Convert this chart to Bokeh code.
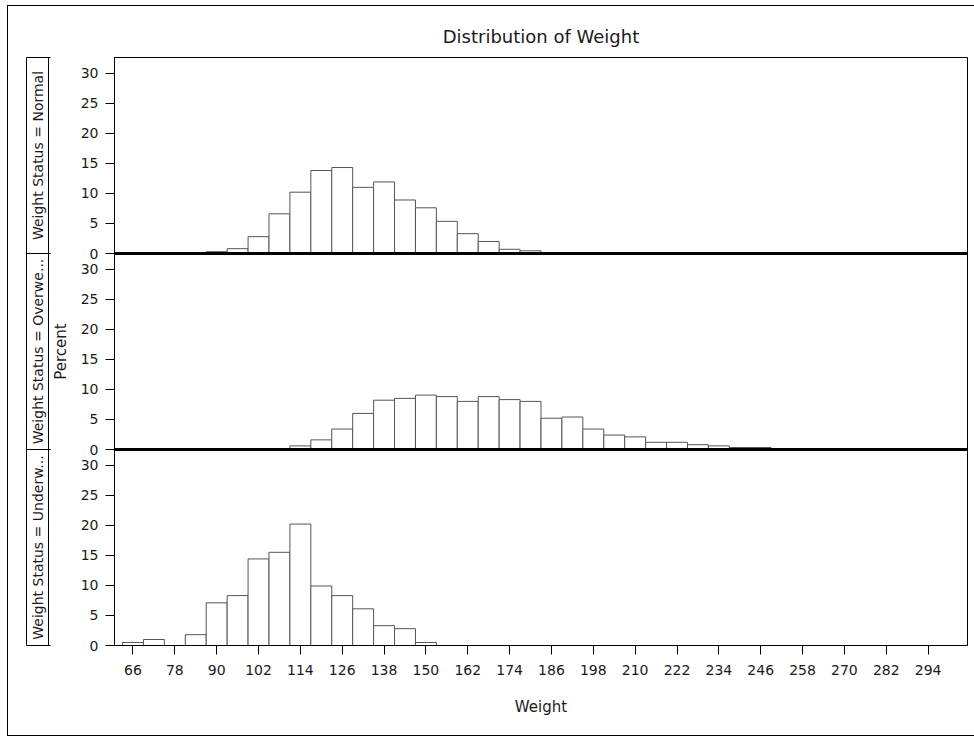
from bokeh.plotting import figure
from bokeh.models import (Range1d, FixedTicker, ColumnDataSource, Span, LinearAxis,
                          InlineStyleSheet)
from bokeh.embed import file_html
from bokeh.resources import INLINE

# ---------------- data ----------------
bin_width = 6
normal_bins = [90, 96, 102, 108, 114, 120, 126, 132, 138, 144, 150, 156, 162, 168, 174, 180]
normal_pct = [0.3, 0.8, 2.8, 6.6, 10.2, 13.8, 14.3, 11.0, 11.9, 8.9, 7.6, 5.35, 3.3, 2.0, 0.7, 0.45]

over_bins = [114, 120, 126, 132, 138, 144, 150, 156, 162, 168, 174, 180, 186, 192, 198,
             204, 210, 216, 222, 228, 234, 240, 246]
over_pct = [0.6, 1.6, 3.4, 6.0, 8.2, 8.5, 9.05, 8.8, 8.0, 8.8, 8.3, 8.0, 5.2, 5.4, 3.4,
            2.4, 2.1, 1.2, 1.2, 0.8, 0.6, 0.33, 0.33]

under_bins = [66, 72, 78, 84, 90, 96, 102, 108, 114, 120, 126, 132, 138, 144, 150]
under_pct = [0.5, 1.0, 0.0, 1.8, 7.1, 8.3, 14.4, 15.5, 20.2, 9.9, 8.3, 6.1, 3.3, 2.8, 0.5]

panel_labels = ["Weight Status = Normal", "Weight Status = Overwe...", "Weight Status = Underw..."]
weight_ticks = [66, 78, 90, 102, 114, 126, 138, 150, 162, 174, 186, 198, 210, 222, 234, 246, 258, 270, 282, 294]
percent_ticks = [0, 5, 10, 15, 20, 25, 30]
title_text = "Distribution of Weight"
x_label = "Weight"
y_label = "Percent"

# ---------------- layout ----------------
W, H = 974, 736
FONT = "DejaVu Sans"
FL, FR = 114, 967          # frame left / right (canvas px)
FT, FB = 57, 645           # frame top / bottom (canvas px)
PANEL_MAX = 32.6           # percent span of one panel
X0, X1 = 60.7, 305.3
TXT = "#1a1a1a"

n_panels = 3
p = figure(width=W, height=H, x_range=Range1d(X0, X1), y_range=Range1d(0, n_panels * PANEL_MAX),
           output_backend="svg", toolbar_location=None, title=title_text,
           min_border=0, min_border_left=FL, min_border_right=W - FR,
           min_border_top=FT, min_border_bottom=H - FB)
p.grid.visible = False
p.background_fill_color = "white"
p.border_fill_color = "white"
p.outline_line_color = "black"
p.outline_line_width = 1

# outer frame of the graph (page-level decoration)
p.stylesheets = [InlineStyleSheet(css=(
    ":host::after { content: ''; position: absolute; left: 7px; top: 5px; width: 1000px; height: 731px;"
    " border-left: 1px solid #000; border-top: 1px solid #000; border-bottom: 1px solid #000;"
    " box-sizing: border-box; pointer-events: none; }"))]

p.title.align = "center"
p.title.text_font = FONT
p.title.text_font_size = "18px"
p.title.text_font_style = "normal"
p.title.text_color = TXT
p.title.standoff = 21

panels = [(normal_bins, normal_pct), (over_bins, over_pct), (under_bins, under_pct)]
tick_vals, overrides = [], {}
for k, (bins, pct) in enumerate(panels):
    off = (n_panels - 1 - k) * PANEL_MAX
    b = [x for x, v in zip(bins, pct) if v > 0]
    v = [v for v in pct if v > 0]
    src = ColumnDataSource(dict(left=[x - bin_width / 2 for x in b],
                                right=[x + bin_width / 2 for x in b],
                                top=[off + t for t in v], bottom=[off] * len(v)))
    p.quad(left="left", right="right", top="top", bottom="bottom", source=src,
           fill_color="white", line_color="#555555", line_width=1)
    for t in percent_ticks:
        tv = round(off + t, 6)
        tick_vals.append(tv)
        overrides[tv] = str(t)
    if k > 0:
        p.add_layout(Span(location=off + PANEL_MAX, dimension="width", line_color="black", line_width=3))

ax = p.yaxis[0]
ax.ticker = FixedTicker(ticks=tick_vals)
ax.major_label_overrides = overrides
ax.major_tick_out = 9
ax.major_tick_in = 0
ax.minor_tick_out = 0
ax.minor_tick_in = 0
ax.major_label_standoff = 7
ax.axis_line_color = "black"
ax.major_tick_line_color = "black"
ax.major_label_text_font = FONT
ax.major_label_text_font_size = "14px"
ax.major_label_text_color = TXT
ax.axis_label = y_label
ax.axis_label_text_font = FONT
ax.axis_label_text_font_size = "15px"
ax.axis_label_text_font_style = "normal"
ax.axis_label_text_color = TXT
ax.axis_label_standoff = 8

# row headers: an extra axis whose tick labels are the panel names (its line is the
# boxes' right edge); a second bare axis gives the left edge, its inward minor ticks
# the boxes' horizontal edges
p.extra_y_ranges = {"hdr": Range1d(0, n_panels)}
hdr_centers = [n_panels - 1 - k + 0.5 for k in range(n_panels)]
hdr_edges = list(range(n_panels + 1))
hdr = LinearAxis(y_range_name="hdr",
                 ticker=FixedTicker(ticks=hdr_centers),
                 major_label_overrides={c: panel_labels[k] for k, c in enumerate(hdr_centers)},
                 major_label_orientation="vertical",
                 major_tick_out=0, major_tick_in=0, major_tick_line_color=None,
                 minor_tick_out=0, minor_tick_in=0,
                 axis_line_color="black", major_label_standoff=3,
                 major_label_text_font=FONT, major_label_text_font_size="14px",
                 major_label_text_color=TXT)
p.add_layout(hdr, "left")
hdr_left = LinearAxis(y_range_name="hdr", ticker=FixedTicker(ticks=[], minor_ticks=hdr_edges),
                      major_tick_out=0, major_tick_in=0, minor_tick_out=0, minor_tick_in=24,
                      minor_tick_line_color="black", axis_line_color="black")
p.add_layout(hdr_left, "left")

xa = p.xaxis[0]
xa.ticker = FixedTicker(ticks=weight_ticks)
xa.major_tick_out = 9
xa.major_tick_in = 0
xa.minor_tick_out = 0
xa.minor_tick_in = 0
xa.major_label_standoff = 10
xa.axis_line_color = "black"
xa.major_label_text_font = FONT
xa.major_label_text_font_size = "14px"
xa.major_label_text_color = TXT
xa.axis_label = x_label
xa.axis_label_text_font = FONT
xa.axis_label_text_font_size = "15px"
xa.axis_label_text_font_style = "normal"
xa.axis_label_text_color = TXT
xa.axis_label_standoff = 20

open("out.html", "w").write(file_html(p, INLINE))
